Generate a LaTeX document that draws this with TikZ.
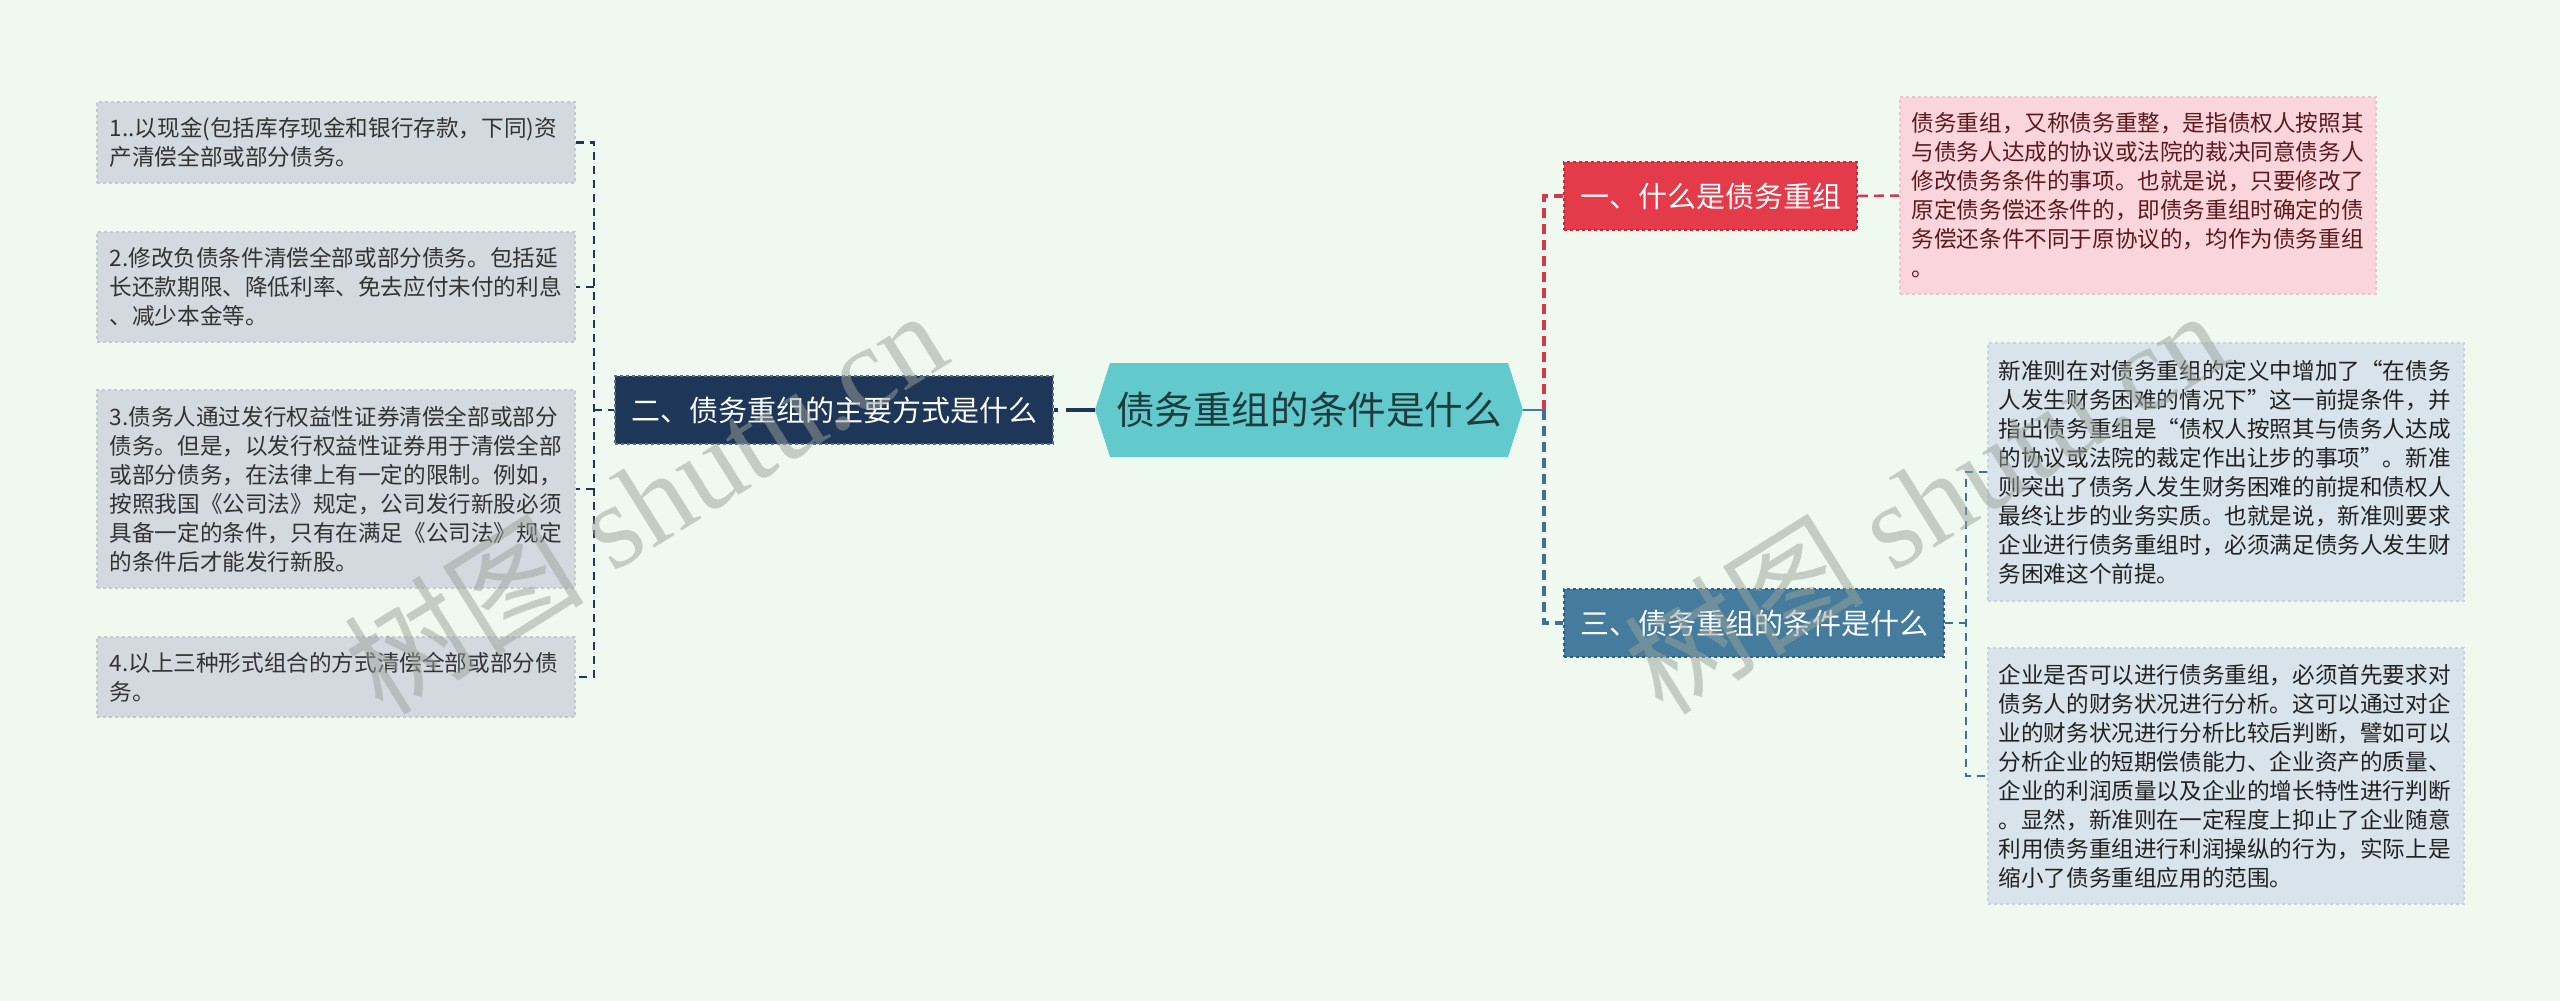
\documentclass[tikz,border=0pt]{standalone}
\usepackage{fontspec}
\newfontfamily\cjk{Noto Sans CJK SC}
\newfontfamily\wmlat{Liberation Serif}
\usetikzlibrary{calc}
\definecolor{bgc}{HTML}{F0F9EF}
\definecolor{lboxf}{HTML}{D4D8DF}
\definecolor{lboxd}{HTML}{C3C9D1}
\definecolor{ltext}{HTML}{333333}
\definecolor{navy}{HTML}{1E3658}
\definecolor{navyd}{HTML}{5A6D88}
\definecolor{teal}{HTML}{62C9CC}
\definecolor{tealtext}{HTML}{1F3B3D}
\definecolor{redf}{HTML}{E43B4B}
\definecolor{redd}{HTML}{C22A3A}
\definecolor{redl}{HTML}{D53848}
\definecolor{pinkf}{HTML}{FAD6DC}
\definecolor{pinkd}{HTML}{F0C2CA}
\definecolor{pinktext}{HTML}{5A1A1E}
\definecolor{bluef}{HTML}{457B9D}
\definecolor{blued}{HTML}{2E5F80}
\definecolor{bluel}{HTML}{3F7096}
\definecolor{rboxf}{HTML}{D9E3EB}
\definecolor{rboxd}{HTML}{C7D3DD}
\definecolor{rtext}{HTML}{222222}
\definecolor{wmc}{HTML}{9AA39A}
\begin{document}
\begin{tikzpicture}[x=1pt,y=-1pt,
  txt/.style={font=\cjk\fontsize{22.6}{29}\selectfont, align=left, anchor=west, inner ysep=0pt, dashed, line width=1.5pt},
  lbox/.style={txt, draw=lboxd, fill=lboxf, text=ltext, inner xsep=13pt, text width=452pt, minimum width=478pt},
  pbox/.style={txt, draw=pinkd, fill=pinkf, text=pinktext, inner xsep=12pt, text width=452pt, minimum width=476pt},
  rbox/.style={txt, draw=rboxd, fill=rboxf, text=rtext, inner xsep=11pt, text width=454pt, minimum width=476pt},
  head/.style={font=\cjk\fontsize{29}{34}\selectfont, text=white, minimum height=68pt, dashed, line width=1.5pt, inner xsep=4pt},
  lconn/.style={draw=navy, dash pattern=on 8pt off 6pt, line width=2.5pt},
  rconn/.style={draw=redl, dash pattern=on 10pt off 6pt, line width=4pt},
  rconnthin/.style={draw=redl, dash pattern=on 10pt off 6pt, line width=2.5pt},
  bconn/.style={draw=bluel, dash pattern=on 10pt off 6pt, line width=4pt},
  bconnthin/.style={draw=bluel, dash pattern=on 8pt off 6pt, line width=2.5pt},
  wm/.style={text=wmc, opacity=0.5, font=\wmlat\fontsize{120}{120}\selectfont, inner sep=0pt}
]
\fill[bgc] (0,0) rectangle (2560,1001);
\useasboundingbox (0,0) rectangle (2560,1001);

% centre hexagon
\fill[teal] (1095,410) -- (1110,363) -- (1508,363) -- (1523,410) -- (1508,457) -- (1110,457) -- cycle;
\node (c) at (1309,410) [minimum width=428pt, minimum height=94pt, inner sep=0pt, font=\cjk\fontsize{38.6}{44}\selectfont, text=tealtext] {债务重组的条件是什么};

% main branches
\node (n2) at (834,410) [head, fill=navy, draw=navyd, minimum width=438pt] {二、债务重组的主要方式是什么};
\node (n1) at (1710.5,196) [head, fill=redf, draw=redd, minimum width=293pt] {一、什么是债务重组};
\node (n3) at (1754,623) [head, fill=bluef, draw=blued, minimum width=380pt] {三、债务重组的条件是什么};

% left leaves
\node (b1) at (96,142.5) [lbox, minimum height=81pt] {1..以现金(包括库存现金和银行存款，下同)资\\产清偿全部或部分债务。};
\node (b2) at (96,287) [lbox, minimum height=110pt] {2.修改负债条件清偿全部或部分债务。包括延\\长还款期限、降低利率、免去应付未付的利息\\、减少本金等。};
\node (b3) at (96,489) [lbox, minimum height=198pt] {3.债务人通过发行权益性证券清偿全部或部分\\债务。但是，以发行权益性证券用于清偿全部\\或部分债务，在法律上有一定的限制。例如，\\按照我国《公司法》规定，公司发行新股必须\\具备一定的条件，只有在满足《公司法》规定\\的条件后才能发行新股。};
\node (b4) at (96,677) [lbox, minimum height=80pt] {4.以上三种形式组合的方式清偿全部或部分债\\务。};

% right leaves
\node (p) at (1899,195.5) [pbox, minimum height=197pt] {债务重组，又称债务重整，是指债权人按照其\\与债务人达成的协议或法院的裁决同意债务人\\修改债务条件的事项。也就是说，只要修改了\\原定债务偿还条件的，即债务重组时确定的债\\务偿还条件不同于原协议的，均作为债务重组\\。};
\node (ra) at (1987,472) [rbox, minimum height=258pt] {新准则在对债务重组的定义中增加了“在债务\\人发生财务困难的情况下”这一前提条件，并\\指出债务重组是“债权人按照其与债务人达成\\的协议或法院的裁定作出让步的事项”。新准\\则突出了债务人发生财务困难的前提和债权人\\最终让步的业务实质。也就是说，新准则要求\\企业进行债务重组时，必须满足债务人发生财\\务困难这个前提。};
\node (rb) at (1987,776) [rbox, minimum height=256pt] {企业是否可以进行债务重组，必须首先要求对\\债务人的财务状况进行分析。这可以通过对企\\业的财务状况进行分析比较后判断，譬如可以\\分析企业的短期偿债能力、企业资产的质量、\\企业的利润质量以及企业的增长特性进行判断\\。显然，新准则在一定程度上抑止了企业随意\\利用债务重组进行利润操纵的行为，实际上是\\缩小了债务重组应用的范围。};

% junction coordinates
\coordinate (jl) at (594,410);
\coordinate (jr) at (1544,410);
\coordinate (jr2) at (1966,623);

% connectors
\draw[draw=navy, line width=4pt, dash pattern=on 29pt off 8pt] (c.west) -- (n2.east);
\draw[lconn] (jl) -- (n2.west);
\draw[lconn] (b1.east) -| (jl) |- (b4.east);
\draw[lconn] (jl |- b2.east) -- (b2.east);
\draw[lconn] (jl |- b3.east) -- (b3.east);

\draw[draw=bluef, line width=2.5pt] (c.east) -- (jr);
\draw[rconn] (jr) |- (n1.west);
\draw[bconn] (jr) |- (n3.west);
\draw[rconnthin] (n1.east) -- (p.west);
\draw[bconnthin] (n3.east) -- (jr2);
\draw[bconnthin] (ra.west) -| (jr2) |- (rb.west);

% watermarks
\node[wm, rotate=32] (w1) at (645,500) {{\cjk 树图} shutu.cn};
\node[wm, rotate=32] (w2) at (1925,500) {{\cjk 树图} shutu.cn};
\end{tikzpicture}
\end{document}
